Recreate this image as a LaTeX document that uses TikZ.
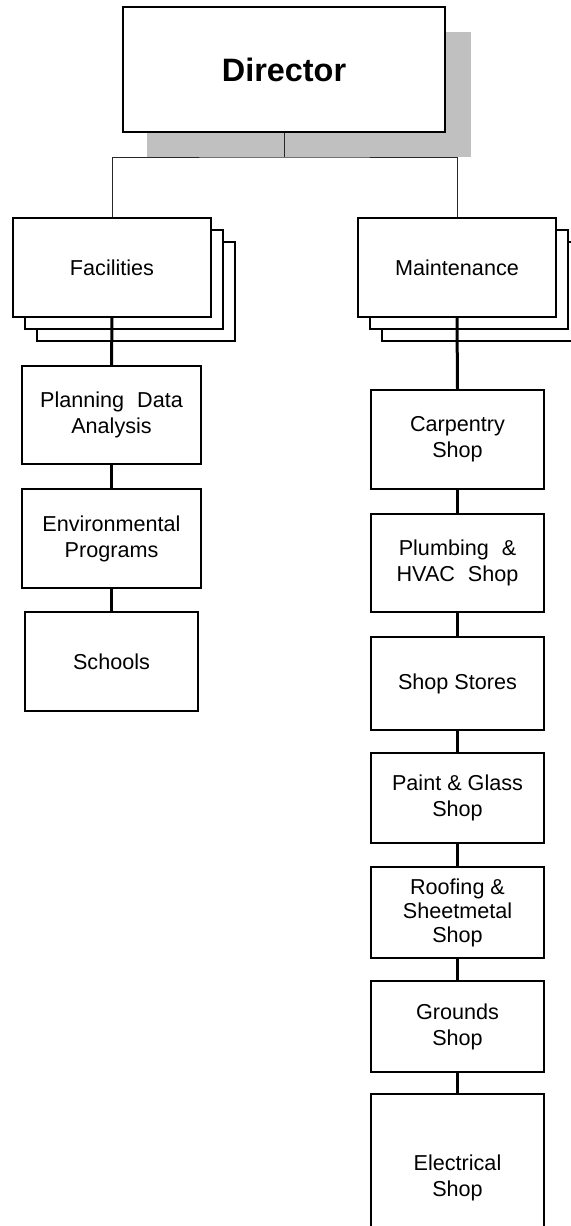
\documentclass[tikz,border=0pt]{standalone}
\usepackage{fontspec}
\setmainfont{Liberation Sans}
\begin{document}
\begin{tikzpicture}[x=0.5pt,y=-0.5pt,
  unitbox/.style={draw=black,line width=1pt,fill=white,align=center,inner sep=0pt,
    font=\fontsize{10.8}{13}\selectfont},
  backbox/.style={draw=black,line width=1pt,fill=white,inner sep=0pt,
    minimum width=99pt,minimum height=49.5pt},
  topbox/.style={draw=black,line width=1.35pt,fill=white,inner sep=0pt,
    minimum width=161pt,minimum height=62.5pt,font=\fontsize{16.2}{19}\selectfont\bfseries},
  thinlink/.style={draw={rgb,255:red,40;green,40;blue,40},line width=0.5pt},
  thicklink/.style={draw=black,line width=1.5pt},
  colA/.style={unitbox,minimum width=89.5pt},
  colB/.style={unitbox,minimum width=86.5pt}]
\definecolor{shadowgray}{RGB}{192,192,192}
\clip (0,0) rectangle (571,1226);

% director with its drop shadow
\fill[shadowgray] (147,32) rectangle (471,157);
\node[topbox] (dir) at (284,69.5) {Director};

% stacked department boxes
\node[backbox] (facb2) at (136,291.5) {};
\node[backbox] (facb1) at (124,279.5) {};
\node[unitbox,minimum width=99pt,minimum height=49.5pt] (fac) at (112,267.5) {Facilities};
\node[backbox] (maib2) at (481,291.5) {};
\node[backbox] (maib1) at (469,279.5) {};
\node[unitbox,minimum width=99pt,minimum height=49.5pt] (mai) at (457,267.5) {Maintenance};

% top-level links
\coordinate (bus) at (284,157);
\draw[thinlink] (dir.south) -- (bus);
\draw[thinlink] (fac.north) |- (bus) -| (mai.north);

% facilities column
\node[colA,minimum height=49pt] (plan) at (111.5,415) {Planning\hspace{0.6em}Data\\Analysis};
\node[colA,minimum height=49.5pt] (env) at (111.5,538.5) {Environmental\\Programs};
\node[colB,minimum height=49.5pt] (sch) at (111.5,661.5) {Schools};

% maintenance column
\node[colB,minimum height=49.5pt] (carp) at (457.5,439.5) {Carpentry\\Shop};
\node[colB,minimum height=49pt] (plum) at (457.5,563) {Plumbing\hspace{0.6em}\&\\HVAC\hspace{0.6em}Shop};
\node[colB,minimum height=46.5pt] (stor) at (457.5,683.5) {Shop Stores};
\node[colB,minimum height=45pt] (pnt) at (457.5,798) {Paint \& Glass\\Shop};
\node[colB,minimum height=45.5pt,font=\fontsize{10.8}{12}\selectfont] (roof) at (457.5,912.5) {Roofing \&\\Sheetmetal\\Shop};
\node[colB,minimum height=45.5pt] (grnd) at (457.5,1026.5) {Grounds\\Shop};
\node[colB,minimum height=84pt] (elec) at (457.5,1178) {Electrical\\Shop};

% chain links
\draw[thicklink] (fac.south) -- (plan.north);
\draw[thicklink] (plan.south) -- (env.north);
\draw[thicklink] (env.south) -- (sch.north);
\draw[thicklink] (mai.south) -- (carp.north);
\draw[thicklink] (carp.south) -- (plum.north);
\draw[thicklink] (plum.south) -- (stor.north);
\draw[thicklink] (stor.south) -- (pnt.north);
\draw[thicklink] (pnt.south) -- (roof.north);
\draw[thicklink] (roof.south) -- (grnd.north);
\draw[thicklink] (grnd.south) -- (elec.north);
\end{tikzpicture}
\end{document}
